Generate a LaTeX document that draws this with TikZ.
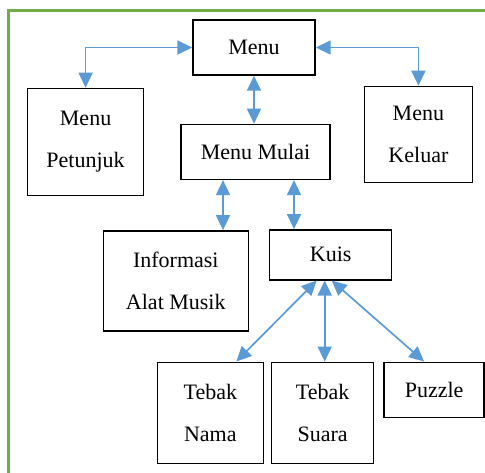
\documentclass[tikz,border=0pt]{standalone}
\usepackage{fontspec}
\setmainfont{Liberation Serif}
\usetikzlibrary{positioning}
\usetikzlibrary {arrows.meta}
\definecolor{linkblue}{HTML}{5B9BD5}
\definecolor{framegreen}{HTML}{70AD47}
\begin{document}
\begin{tikzpicture}[x=0.5pt,y=-0.5pt,
    box/.style={draw,line width=0.7pt,inner sep=0pt,align=center,
        font=\fontsize{11}{21}\selectfont},
    link/.style={linkblue,line width=0.85pt,
        {Triangle[length=7.5pt,width=7pt]}-{Triangle[length=7.5pt,width=7pt]}}]
    \useasboundingbox (0,0) rectangle (485,472);
    %% frame
    \draw[framegreen,line width=1.25pt] (8.3,480) |- (490,10.5);
    %% boxes
    \node[box,minimum width=61pt,minimum height=27.5pt] (menu) at (254,47.5) {Menu};
    \node[box,minimum width=74.5pt,minimum height=27.5pt,below=24pt of menu,xshift=0.75pt] (mulai) {Menu Mulai};
    \node[box,minimum width=58pt,minimum height=53.5pt,below left=6pt and 24pt of menu.south west,anchor=north east] (petunjuk) {Menu\\Petunjuk};
    \node[box,minimum width=54pt,minimum height=48pt,below right=5pt and 24pt of menu.south east,anchor=north west] (keluar) {Menu\\Keluar};
    \node[box,minimum width=72.5pt,minimum height=50pt,below left=25pt and 3.25pt of mulai.south,anchor=north east] (informasi) {Informasi\\Alat Musik};
    \node[box,minimum width=61pt,minimum height=25pt,below right=24.5pt and 6.75pt of mulai.south,anchor=north west] (kuis) {Kuis};
    \node[box,minimum width=51pt,minimum height=50.5pt,below=40.5pt of kuis,xshift=-4pt] (suara) {Tebak\\Suara};
    \node[box,minimum width=53pt,minimum height=50.5pt,left=3.5pt of suara.north west,anchor=north east] (nama) {Tebak\\Nama};
    \node[box,minimum width=50pt,minimum height=27.5pt,right=4.5pt of suara.north east,anchor=north west] (puzzle) {Puzzle};
    %% connectors
    \coordinate (i1) at ([xshift=-13pt]informasi.north east);
    \coordinate (k1) at ([xshift=12.5pt]kuis.north west);
    \coordinate (k2) at ([xshift=-3pt]kuis.south);
    \draw[link] (menu.west) -| (petunjuk.north);
    \draw[link] (menu.east) -| (keluar.north);
    \draw[link] (menu.south) -- (menu.south |- mulai.north);
    \draw[link] (i1 |- mulai.south) -- (i1);
    \draw[link] (k1 |- mulai.south) -- (k1);
    \draw[link] ([xshift=-7pt]kuis.south) -- ([xshift=13pt]nama.north);
    \draw[link] (k2) -- (k2 |- suara.north);
    \draw[link] ([xshift=0.5pt]kuis.south) -- ([xshift=-5pt]puzzle.north);
\end{tikzpicture}
\end{document}
